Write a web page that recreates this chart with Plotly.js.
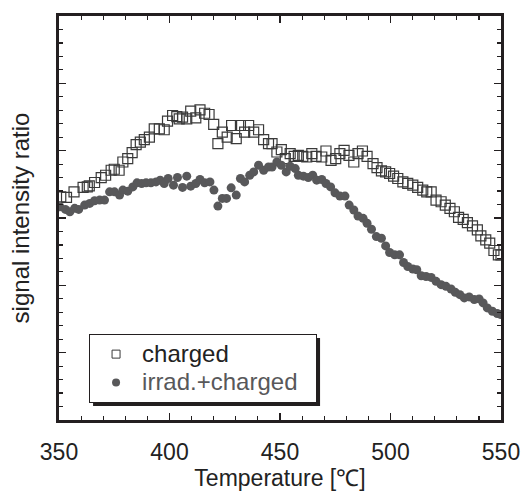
<!DOCTYPE html>
<html>
<head>
<meta charset="utf-8">
<script src="https://cdn.plot.ly/plotly-3.0.1.min.js"></script>
<style>
html,body{margin:0;padding:0;background:#fff;}
#plot{width:524px;height:493px;}
</style>
</head>
<body>
<div id="plot"></div>
<script>
// Temperature [°C] and signal intensity ratio (arbitrary units, axis 0–6)
const chargedT = [350.8,353.4,356.8,360.9,362.8,363.7,366.1,369.1,371.1,373.6,375.0,377.2,378.9,381.1,383.1,384.9,386.8,388.6,390.9,393.1,395.4,397.6,399.1,401.4,403.3,404.4,405.9,407.8,409.6,411.9,413.8,415.9,417.9,420.0,421.9,423.9,426.1,428.1,430.2,432.1,434.0,435.8,438.1,440.3,442.6,444.8,446.4,448.6,450.6,452.4,454.6,456.4,458.3,460.3,462.1,464.4,466.3,468.9,470.8,473.1,475.2,477.1,479.0,481.2,483.4,485.3,487.3,489.4,492.1,493.9,495.9,497.8,499.6,501.4,503.3,505.6,507.8,510.1,512.3,514.6,516.4,518.4,520.6,522.9,524.8,526.9,528.9,530.8,532.9,534.8,537.1,539.3,540.9,543.1,544.9,546.8,548.8,550.0];
const chargedV = [3.315,3.306,3.389,3.454,3.462,3.477,3.527,3.601,3.635,3.709,3.724,3.709,3.832,3.882,3.971,4.089,4.128,4.163,4.201,4.325,4.325,4.311,4.438,4.522,4.507,4.473,4.497,4.473,4.586,4.488,4.606,4.556,4.537,4.389,4.104,4.275,4.201,4.374,4.178,4.374,4.275,4.374,4.275,4.311,4.163,4.104,4.104,3.980,4.015,3.882,3.956,3.916,3.931,3.916,3.906,3.956,3.916,3.906,3.995,3.857,3.882,3.956,4.005,3.931,3.832,3.956,3.995,3.916,3.808,3.749,3.699,3.684,3.661,3.621,3.587,3.536,3.513,3.488,3.454,3.414,3.389,3.389,3.266,3.241,3.192,3.143,3.093,3.010,2.981,2.931,2.882,2.823,2.734,2.675,2.626,2.517,2.453,2.453];

const irradT = [350.4,352.9,354.9,357.1,358.9,361.6,363.9,366.1,368.4,370.6,372.9,375.1,377.4,378.9,381.1,383.4,385.3,387.4,389.4,391.6,393.9,395.8,397.6,399.4,401.8,403.6,405.9,407.8,409.6,411.9,413.8,415.9,418.3,420.1,421.9,423.9,425.8,427.9,430.2,432.1,434.0,436.3,438.1,440.3,442.6,444.8,446.4,448.6,450.6,452.8,454.6,456.9,458.3,460.6,462.8,464.8,466.6,468.9,470.8,472.9,474.9,477.1,479.4,481.3,483.4,485.3,487.6,489.4,491.4,493.6,495.9,497.8,499.6,501.9,504.1,505.9,507.8,510.1,511.9,513.9,516.1,518.4,520.6,522.9,525.1,527.4,529.3,531.4,533.4,535.6,537.9,540.1,541.9,543.8,546.1,548.3,549.9];
const irradV = [3.167,3.128,3.093,3.143,3.128,3.192,3.217,3.256,3.266,3.266,3.389,3.389,3.340,3.414,3.399,3.462,3.522,3.513,3.522,3.522,3.536,3.562,3.513,3.587,3.488,3.601,3.454,3.621,3.473,3.513,3.572,3.522,3.536,3.414,3.177,3.291,3.291,3.448,3.340,3.587,3.536,3.635,3.684,3.783,3.709,3.758,3.758,3.832,3.783,3.684,3.768,3.734,3.635,3.621,3.601,3.635,3.562,3.572,3.513,3.462,3.374,3.325,3.325,3.192,3.118,3.029,2.995,2.922,2.833,2.724,2.700,2.586,2.487,2.453,2.453,2.339,2.280,2.242,2.231,2.143,2.132,2.118,2.059,2.010,1.985,1.946,1.896,1.862,1.813,1.828,1.788,1.798,1.739,1.665,1.615,1.581,1.566];

const xTickVals = [350,400,450,500,550];
const seriesNames = ['charged','irrad.+charged'];

const font = 'Arial, "Liberation Sans", sans-serif';
const ink = '#231f20';
const sqColor = '#3a3a3a';
const dotColor = '#58585a';

const data = [
  {x: chargedT, y: chargedV, name: seriesNames[0], type:'scatter', mode:'markers', showlegend:false,
   marker:{symbol:'square-open', size:10, color:sqColor, line:{width:1.2, color:sqColor}}},
  {x: irradT, y: irradV, name: seriesNames[1], type:'scatter', mode:'markers', showlegend:false,
   marker:{symbol:'circle', size:9, color:dotColor, line:{width:0}}},
  // legend entries (same series, smaller legend symbols)
  {x:[null], y:[null], name: '<span style="font-size:24px">'+seriesNames[0]+'</span>', type:'scatter', mode:'markers',
   marker:{symbol:'square-open', size:8, color:sqColor, line:{width:1, color:sqColor}}},
  {x:[null], y:[null], name: '<span style="font-size:24px;fill:#58585a;color:#58585a">'+seriesNames[1]+'\u00a0\u00a0</span>', type:'scatter', mode:'markers',
   marker:{symbol:'circle', size:8, color:dotColor, line:{width:0}}}
];

const axisCommon = {
  showgrid:false, zeroline:false, showline:true, linewidth:3, linecolor:ink,
  mirror:'ticks', ticks:'inside', tickwidth:1.5, tickcolor:ink, ticklen:7
};

const layout = {
  width:524, height:493,
  margin:{l:59, r:23, t:16, b:73},
  paper_bgcolor:'#fff', plot_bgcolor:'#fff',
  font:{family:font, color:'#222', size:23},
  showlegend:true,
  legend:{x:0.068, y:0.213, xanchor:'left', yanchor:'top', bgcolor:'#fff',
          bordercolor:ink, borderwidth:1, font:{family:font, size:19.5, color:'#222'},
          itemsizing:'trace', itemwidth:42, tracegroupgap:0},
  xaxis:Object.assign({}, axisCommon, {
    range:[350,550], tickmode:'array', tickvals:xTickVals, ticktext:xTickVals.map(String),
    minor:{dtick:10, ticks:'inside', ticklen:4, tickwidth:1.2, tickcolor:ink},
    tickfont:{size:23, color:'#222', family:font}, ticklabelstandoff:9,
    title:{text:'Temperature [\u2103]', font:{size:23, color:'#222', family:font}, standoff:4}
  }),
  yaxis:Object.assign({}, axisCommon, {
    range:[0,6], dtick:1, tick0:0, showticklabels:false,
    minor:{dtick:0.2, ticks:'inside', ticklen:4, tickwidth:1.2, tickcolor:ink},
    title:{text:'signal intensity ratio', font:{size:24, color:'#222', family:font}, standoff:20}
  })
};

Plotly.newPlot('plot', data, layout, {staticPlot:true, displayModeBar:false}).then(gd => {
  const bg = gd.querySelector('.legend .bg');
  if (!bg) return;
  const r = bg.getBoundingClientRect();
  const c = gd.getBoundingClientRect();
  const s = gd._fullLayout._size;
  const toX = px => (px - c.left - s.l) / s.w;
  const toY = py => 1 - (py - c.top - s.t) / s.h;
  const off = 3.5;
  Plotly.relayout(gd, {shapes:[{
    type:'rect', xref:'paper', yref:'paper', layer:'above',
    x0:toX(r.left + off), x1:toX(r.right + off),
    y0:toY(r.bottom + off), y1:toY(r.top + off),
    fillcolor:ink, line:{width:0}
  }]});
});
</script>
</body>
</html>
